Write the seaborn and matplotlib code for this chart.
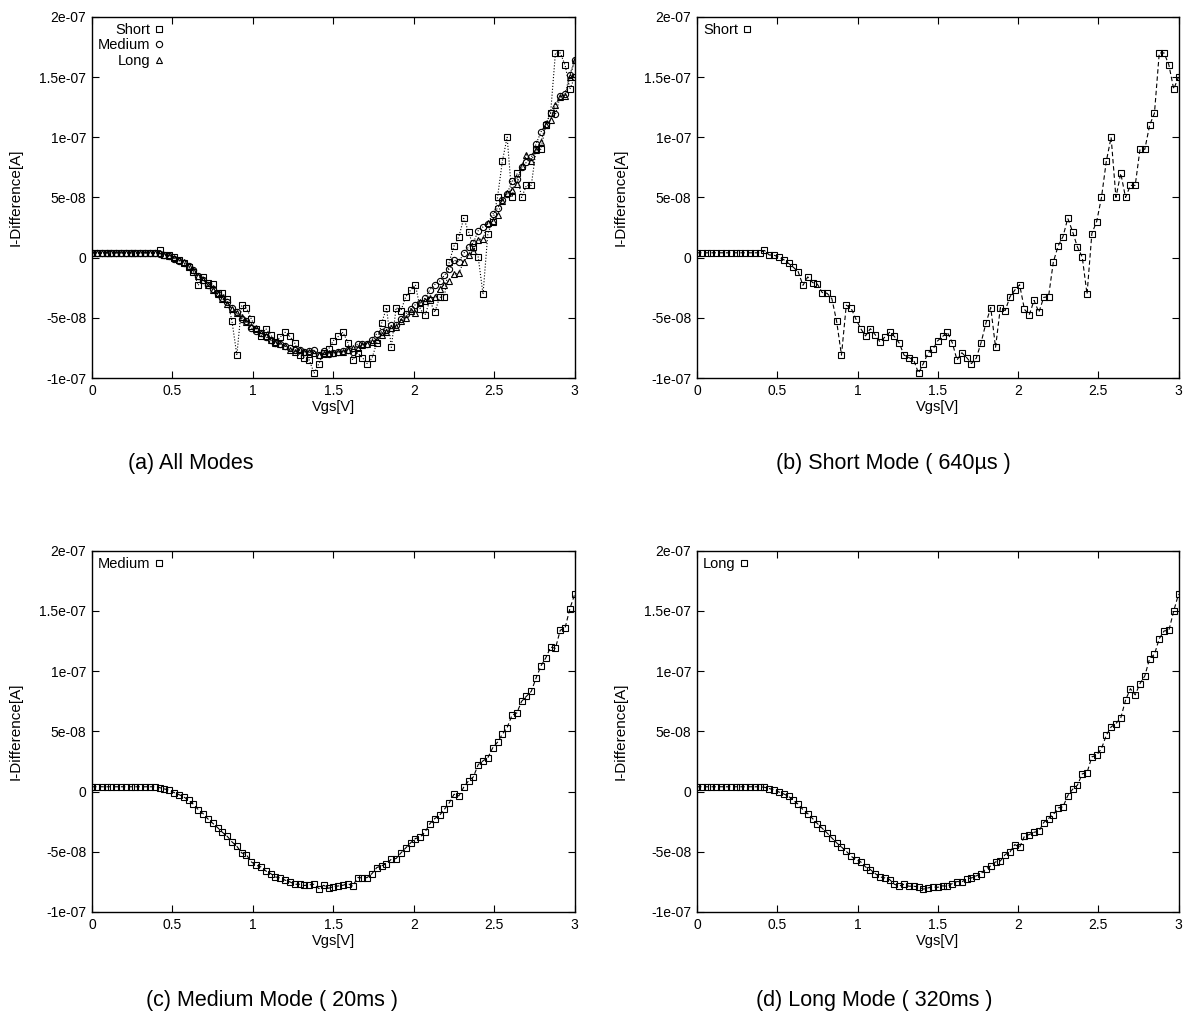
import numpy as np
import pandas as pd
import matplotlib
matplotlib.use("Agg")
import matplotlib.pyplot as plt
import seaborn as sns

# Gate-voltage sweep: 0 .. 3 V in 0.03 V steps
vgs = np.round(np.arange(101) * 0.03, 2)

# Current difference [A] for each acquisition mode
short_mode = [
    4e-9, 4e-9, 4e-9, 4e-9, 4e-9, 4e-9, 4e-9, 4e-9, 4e-9, 4e-9,
    4e-9, 4e-9, 4e-9, 4e-9, 6e-9, 2.2e-9, 2e-9, 0.5e-9, -1.7e-9, -4.7e-9,
    -8e-9, -1.16e-8, -2.3e-8, -1.6e-8, -2.07e-8, -2.2e-8, -2.9e-8, -2.96e-8, -3.4e-8, -5.3e-8,
    -8.1e-8, -3.95e-8, -4.2e-8, -5.1e-8, -5.9e-8, -6.5e-8, -5.9e-8, -6.4e-8, -7.0e-8, -6.6e-8,
    -6.2e-8, -6.55e-8, -7.1e-8, -8.1e-8, -8.3e-8, -8.5e-8, -9.6e-8, -8.8e-8, -7.9e-8, -7.6e-8,
    -6.9e-8, -6.55e-8, -6.2e-8, -7.05e-8, -8.5e-8, -7.9e-8, -8.3e-8, -8.8e-8, -8.35e-8, -7.05e-8,
    -5.45e-8, -4.15e-8, -7.45e-8, -4.15e-8, -4.4e-8, -3.25e-8, -2.7e-8, -2.25e-8, -4.3e-8, -4.75e-8,
    -3.55e-8, -4.55e-8, -3.3e-8, -3.25e-8, -3.6e-9, 9.7e-9, 1.74e-8, 3.26e-8, 2.16e-8, 8.8e-9,
    0.5e-9, -3.04e-8, 2.0e-8, 3.0e-8, 5.0e-8, 8.0e-8, 1.0e-7, 5.0e-8, 7.0e-8, 5.0e-8,
    6.0e-8, 6.0e-8, 9.0e-8, 9.0e-8, 1.1e-7, 1.2e-7, 1.7e-7, 1.7e-7, 1.6e-7, 1.4e-7,
    1.5e-7,
]

medium_mode = [
    4e-9, 4e-9, 4e-9, 4e-9, 4e-9, 4e-9, 4e-9, 4e-9, 4e-9, 4e-9,
    4e-9, 4e-9, 4e-9, 4e-9, 3.3e-9, 2.2e-9, 1.1e-9, -0.8e-9, -2.5e-9, -4.4e-9,
    -7.2e-9, -1.05e-8, -1.5e-8, -1.83e-8, -2.27e-8, -2.63e-8, -2.99e-8, -3.38e-8, -3.71e-8, -4.18e-8,
    -4.54e-8, -5.09e-8, -5.26e-8, -5.84e-8, -6.12e-8, -6.26e-8, -6.59e-8, -6.81e-8, -7.09e-8, -7.17e-8,
    -7.36e-8, -7.5e-8, -7.7e-8, -7.7e-8, -7.8e-8, -7.75e-8, -7.7e-8, -8.06e-8, -7.78e-8, -8.03e-8,
    -7.9e-8, -7.84e-8, -7.78e-8, -7.64e-8, -7.86e-8, -7.14e-8, -7.17e-8, -7.14e-8, -6.81e-8, -6.31e-8,
    -6.17e-8, -5.98e-8, -5.62e-8, -5.56e-8, -5.09e-8, -4.68e-8, -4.26e-8, -3.9e-8, -3.77e-8, -3.35e-8,
    -2.66e-8, -2.24e-8, -1.97e-8, -1.47e-8, -9.4e-9, -2.2e-9, -3.6e-9, 3.6e-9, 8.9e-9, 1.22e-8,
    2.24e-8, 2.55e-8, 2.82e-8, 3.63e-8, 4.1e-8, 4.76e-8, 5.32e-8, 6.34e-8, 6.53e-8, 7.5e-8,
    7.92e-8, 8.33e-8, 9.44e-8, 1.044e-7, 1.11e-7, 1.2e-7, 1.19e-7, 1.34e-7, 1.36e-7, 1.52e-7,
    1.64e-7,
]

long_mode = [
    4e-9, 4e-9, 4e-9, 4e-9, 4e-9, 4e-9, 4e-9, 4e-9, 4e-9, 4e-9,
    4e-9, 4e-9, 4e-9, 4e-9, 3.6e-9, 2.5e-9, 1.4e-9, -0.3e-9, -1.9e-9, -3.9e-9,
    -7.2e-9, -1.05e-8, -1.5e-8, -1.83e-8, -2.24e-8, -2.66e-8, -3.05e-8, -3.43e-8, -3.85e-8, -4.26e-8,
    -4.6e-8, -4.96e-8, -5.37e-8, -5.65e-8, -5.84e-8, -6.26e-8, -6.48e-8, -6.81e-8, -7.09e-8, -7.17e-8,
    -7.31e-8, -7.7e-8, -7.84e-8, -7.7e-8, -7.86e-8, -7.86e-8, -7.92e-8, -8.1e-8, -8.0e-8, -7.92e-8,
    -7.95e-8, -7.83e-8, -7.86e-8, -7.64e-8, -7.47e-8, -7.5e-8, -7.25e-8, -7.17e-8, -7.0e-8, -6.81e-8,
    -6.42e-8, -6.17e-8, -5.84e-8, -5.76e-8, -5.23e-8, -5.01e-8, -4.4e-8, -4.62e-8, -3.71e-8, -3.57e-8,
    -3.38e-8, -3.29e-8, -2.57e-8, -2.24e-8, -1.91e-8, -1.36e-8, -1.27e-8, -3.3e-9, 1.9e-9, 5.3e-9,
    1.47e-8, 1.58e-8, 2.88e-8, 3.02e-8, 3.57e-8, 4.68e-8, 5.37e-8, 5.65e-8, 6.12e-8, 7.59e-8,
    8.55e-8, 8.03e-8, 8.97e-8, 9.61e-8, 1.105e-7, 1.14e-7, 1.27e-7, 1.334e-7, 1.34e-7, 1.5e-7,
    1.64e-7,
]

x_ticks = [0, 0.5, 1, 1.5, 2, 2.5, 3]
x_tick_labels = ["0", "0.5", "1", "1.5", "2", "2.5", "3"]
y_ticks = [-1e-7, -5e-8, 0, 5e-8, 1e-7, 1.5e-7, 2e-7]
y_tick_labels = ["-1e-07", "-5e-08", "0", "5e-08", "1e-07", "1.5e-07", "2e-07"]

captions = [
    "(a) All Modes",
    "(b) Short Mode ( 640\u00b5s )",
    "(c) Medium Mode ( 20ms )",
    "(d) Long Mode ( 320ms )",
]

sns.set_theme(style="ticks")
plt.rcParams["font.family"] = ["Liberation Sans", "DejaVu Sans"]
plt.rcParams["axes.edgecolor"] = "black"
plt.rcParams["axes.labelcolor"] = "black"
plt.rcParams["text.color"] = "black"
plt.rcParams["axes.linewidth"] = 1.0

fig = plt.figure(figsize=(11.86, 10.32), dpi=100)

ax_w = 0.407
ax_h = 0.350
positions = [
    [0.0776, 0.6337, ax_w, ax_h],
    [0.5877, 0.6337, ax_w - 0.001, ax_h],
    [0.0776, 0.1163, ax_w, ax_h],
    [0.5877, 0.1163, ax_w - 0.001, ax_h],
]
axes = [fig.add_axes(p) for p in positions]

df = pd.DataFrame({"Vgs": vgs, "Short": short_mode, "Medium": medium_mode, "Long": long_mode})

mk_common = dict(color="black", markerfacecolor="none", markeredgecolor="black",
                 markeredgewidth=0.8)

# (a) all three modes together, dotted connecting lines
ax = axes[0]
sns.lineplot(data=df, x="Vgs", y="Short", ax=ax, marker="s", markersize=5,
             linestyle=":", linewidth=0.8, label="Short", **mk_common)
sns.lineplot(data=df, x="Vgs", y="Medium", ax=ax, marker="o", markersize=4.5,
             linestyle=":", linewidth=0.8, label="Medium", **mk_common)
sns.lineplot(data=df, x="Vgs", y="Long", ax=ax, marker="^", markersize=4.5,
             linestyle=":", linewidth=0.8, label="Long", **mk_common)

# (b)-(d) one mode per panel, dashed connecting lines
for ax, col in zip(axes[1:], ["Short", "Medium", "Long"]):
    sns.lineplot(data=df, x="Vgs", y=col, ax=ax, marker="s", markersize=5,
                 linestyle=(0, (4, 2.5)), linewidth=0.8, label=col, **mk_common)

for ax in axes:
    ax.set_xlim(0, 3)
    ax.set_ylim(-1e-7, 2e-7)
    ax.set_xticks(x_ticks)
    ax.set_xticklabels(x_tick_labels)
    ax.set_yticks(y_ticks)
    ax.set_yticklabels(y_tick_labels)
    ax.tick_params(direction="in", top=True, right=True, length=5, width=0.8,
                   labelsize=10, colors="black", pad=4)
    ax.set_xlabel("Vgs[V]", fontsize=10.5, labelpad=2, color="black")
    ax.set_ylabel("I-Difference[A]", fontsize=11, labelpad=12, color="black")
    for s in ax.spines.values():
        s.set_visible(True)
        s.set_color("black")
    leg = ax.legend(loc="upper left", markerfirst=False, frameon=False,
                    handlelength=0.6, handletextpad=0.3, labelspacing=0.12,
                    fontsize=10.5, borderaxespad=0.2, borderpad=0.2,
                    labelcolor="black")
    for h in leg.legend_handles:
        h.set_linestyle("none")

caption_pos = [(0.161, 0.551), (0.753, 0.551), (0.229, 0.031), (0.737, 0.031)]
for (cx, cy), text in zip(caption_pos, captions):
    fig.text(cx, cy, text, ha="center", va="center", fontsize=15.5, color="black")

fig.savefig("out.png", dpi=100, facecolor="white")
